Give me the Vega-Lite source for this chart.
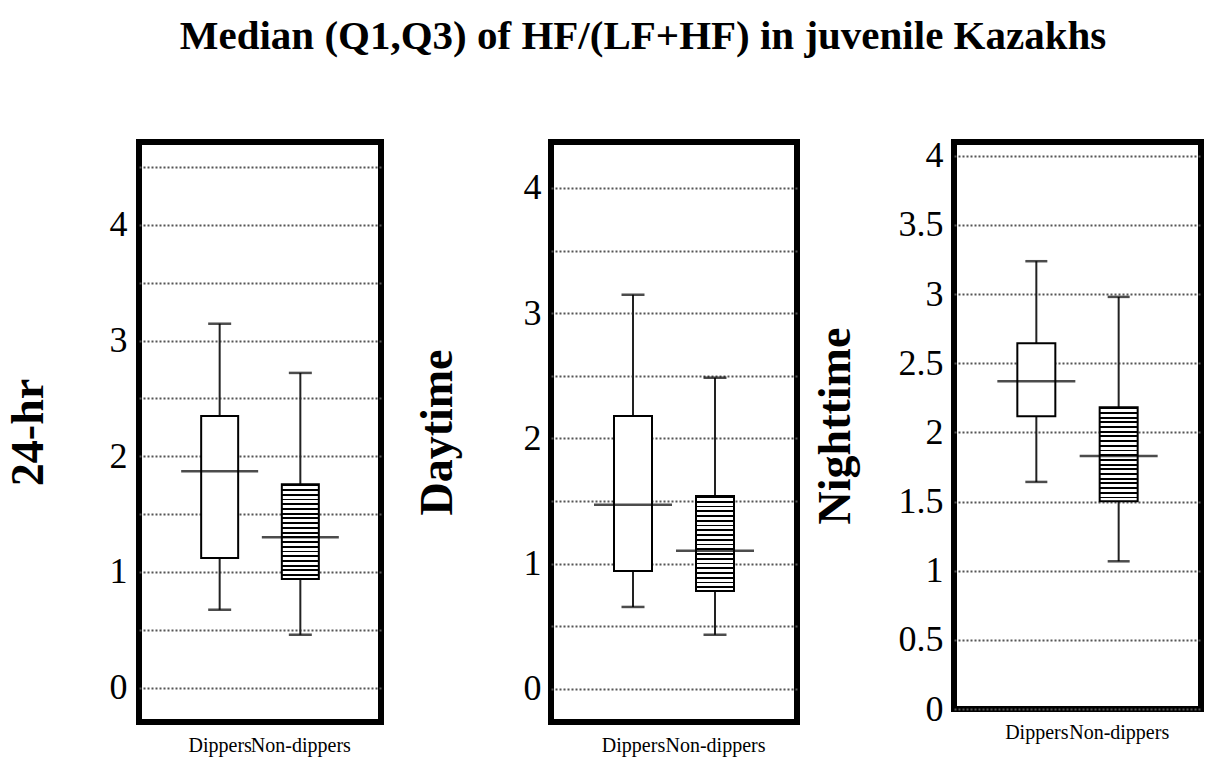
{
  "$schema": "https://vega.github.io/schema/vega-lite/v6.json",
  "background": "white",
  "padding": {"left": 2, "top": 15, "right": 2, "bottom": 2},
  "title": {
    "text": "Median (Q1,Q3) of HF/(LF+HF) in juvenile Kazakhs",
    "font": "Liberation Serif",
    "fontSize": 41,
    "fontWeight": "bold",
    "color": "black",
    "anchor": "middle",
    "offset": 77,
    "dx": 40
  },
  "datasets": {
    "stats": [
      {"panel": "24-hr", "group": "Dippers", "low": 0.674, "q1": 1.12, "median": 1.87, "q3": 2.347, "high": 3.145},
      {"panel": "24-hr", "group": "Non-dippers", "low": 0.458, "q1": 0.94, "median": 1.30, "q3": 1.757, "high": 2.72},
      {"panel": "Daytime", "group": "Dippers", "low": 0.653, "q1": 0.94, "median": 1.47, "q3": 2.178, "high": 3.147},
      {"panel": "Daytime", "group": "Non-dippers", "low": 0.431, "q1": 0.78, "median": 1.102, "q3": 1.539, "high": 2.484},
      {"panel": "Nighttime", "group": "Dippers", "low": 1.642, "q1": 2.117, "median": 2.37, "q3": 2.645, "high": 3.238},
      {"panel": "Nighttime", "group": "Non-dippers", "low": 1.068, "q1": 1.502, "median": 1.83, "q3": 2.182, "high": 2.98}
    ]
  },
  "config": {
    "view": {"stroke": "black", "strokeWidth": 6},
    "axisY": {
      "labelFont": "Liberation Serif",
      "labelFontSize": 36,
      "labelColor": "black",
      "labelBaseline": "middle",
      "format": "~g",
      "grid": true,
      "gridColor": "#555555",
      "gridDash": [2, 2],
      "gridWidth": 1.8,
      "ticks": false,
      "domain": false,
      "titleFont": "Liberation Serif",
      "titleFontSize": 46,
      "titleFontWeight": "bold",
      "titleColor": "black"
    },
    "axisX": {
      "labelFont": "Liberation Serif",
      "labelFontSize": 20,
      "labelColor": "black",
      "labelAngle": 0,
      "labelPadding": 13,
      "ticks": false,
      "domain": false,
      "grid": false,
      "title": null
    }
  },
  "hconcat": [
    {
      "bounds": "flush",
      "spacing": 170,
      "hconcat": [
        {
          "width": 242,
          "height": 580,
          "data": {"name": "stats"},
          "transform": [{"filter": "datum.panel === '24-hr'"}],
          "encoding": {
            "x": {"field": "group", "type": "nominal", "scale": {"type": "point", "padding": 1}, "axis": {"title": null}}
          },
          "layer": [
            {
              "mark": {"type": "rule", "color": "#222", "strokeWidth": 2},
              "encoding": {
                "y": {"field": "low", "type": "quantitative", "title": "24-hr",
                  "scale": {"domain": [-0.296, 4.715], "nice": false, "zero": false},
                  "axis": {"values": [0, 0.5, 1, 1.5, 2, 2.5, 3, 3.5, 4, 4.5], "format": "~g", "labelExpr": "datum.value % 1 === 0 ? datum.label : ''", "labelPadding": 12, "titlePadding": 57}},
                "y2": {"field": "high"}
              }
            },
            {
              "mark": {"type": "tick", "color": "black", "size": 23, "thickness": 2.5},
              "encoding": {"y": {"field": "low", "type": "quantitative", "title": "24-hr"}}
            },
            {
              "mark": {"type": "tick", "color": "black", "size": 23, "thickness": 2.5},
              "encoding": {"y": {"field": "high", "type": "quantitative", "title": "24-hr"}}
            },
            {
              "transform": [{"filter": "datum.group === 'Dippers'"}],
              "mark": {"type": "bar", "size": 37, "fill": "white", "stroke": "black", "strokeWidth": 2},
              "encoding": {"y": {"field": "q1", "type": "quantitative", "title": "24-hr"}, "y2": {"field": "q3"}}
            },
            {
              "transform": [{"filter": "datum.group === 'Non-dippers'"}],
              "mark": {"type": "bar", "size": 37, "stroke": "black", "strokeWidth": 2,
                "fill": {"gradient": "linear", "x1": 0, "y1": 0, "x2": 0, "y2": 1, "stops": [
                  {"offset": 0, "color": "black"}, {"offset": 0.02, "color": "black"}, {"offset": 0.02, "color": "white"}, {"offset": 0.05, "color": "white"},
                  {"offset": 0.05, "color": "black"}, {"offset": 0.07, "color": "black"}, {"offset": 0.07, "color": "white"}, {"offset": 0.1, "color": "white"},
                  {"offset": 0.1, "color": "black"}, {"offset": 0.12, "color": "black"}, {"offset": 0.12, "color": "white"}, {"offset": 0.15, "color": "white"},
                  {"offset": 0.15, "color": "black"}, {"offset": 0.17, "color": "black"}, {"offset": 0.17, "color": "white"}, {"offset": 0.2, "color": "white"},
                  {"offset": 0.2, "color": "black"}, {"offset": 0.22, "color": "black"}, {"offset": 0.22, "color": "white"}, {"offset": 0.25, "color": "white"},
                  {"offset": 0.25, "color": "black"}, {"offset": 0.27, "color": "black"}, {"offset": 0.27, "color": "white"}, {"offset": 0.3, "color": "white"},
                  {"offset": 0.3, "color": "black"}, {"offset": 0.32, "color": "black"}, {"offset": 0.32, "color": "white"}, {"offset": 0.35, "color": "white"},
                  {"offset": 0.35, "color": "black"}, {"offset": 0.37, "color": "black"}, {"offset": 0.37, "color": "white"}, {"offset": 0.4, "color": "white"},
                  {"offset": 0.4, "color": "black"}, {"offset": 0.42, "color": "black"}, {"offset": 0.42, "color": "white"}, {"offset": 0.45, "color": "white"},
                  {"offset": 0.45, "color": "black"}, {"offset": 0.47, "color": "black"}, {"offset": 0.47, "color": "white"}, {"offset": 0.5, "color": "white"},
                  {"offset": 0.5, "color": "black"}, {"offset": 0.52, "color": "black"}, {"offset": 0.52, "color": "white"}, {"offset": 0.55, "color": "white"},
                  {"offset": 0.55, "color": "black"}, {"offset": 0.57, "color": "black"}, {"offset": 0.57, "color": "white"}, {"offset": 0.6, "color": "white"},
                  {"offset": 0.6, "color": "black"}, {"offset": 0.62, "color": "black"}, {"offset": 0.62, "color": "white"}, {"offset": 0.65, "color": "white"},
                  {"offset": 0.65, "color": "black"}, {"offset": 0.67, "color": "black"}, {"offset": 0.67, "color": "white"}, {"offset": 0.7, "color": "white"},
                  {"offset": 0.7, "color": "black"}, {"offset": 0.72, "color": "black"}, {"offset": 0.72, "color": "white"}, {"offset": 0.75, "color": "white"},
                  {"offset": 0.75, "color": "black"}, {"offset": 0.77, "color": "black"}, {"offset": 0.77, "color": "white"}, {"offset": 0.8, "color": "white"},
                  {"offset": 0.8, "color": "black"}, {"offset": 0.82, "color": "black"}, {"offset": 0.82, "color": "white"}, {"offset": 0.85, "color": "white"},
                  {"offset": 0.85, "color": "black"}, {"offset": 0.87, "color": "black"}, {"offset": 0.87, "color": "white"}, {"offset": 0.9, "color": "white"},
                  {"offset": 0.9, "color": "black"}, {"offset": 0.92, "color": "black"}, {"offset": 0.92, "color": "white"}, {"offset": 0.95, "color": "white"},
                  {"offset": 0.95, "color": "black"}, {"offset": 0.97, "color": "black"}, {"offset": 0.97, "color": "white"}, {"offset": 1, "color": "white"}
                ]}},
              "encoding": {"y": {"field": "q1", "type": "quantitative", "title": "24-hr"}, "y2": {"field": "q3"}}
            },
            {
              "mark": {"type": "tick", "color": "black", "size": 77, "thickness": 2.5},
              "encoding": {"y": {"field": "median", "type": "quantitative", "title": "24-hr"}}
            }
          ]
        },
        {
          "width": 246,
          "height": 580,
          "data": {"name": "stats"},
          "transform": [{"filter": "datum.panel === 'Daytime'"}],
          "encoding": {
            "x": {"field": "group", "type": "nominal", "scale": {"type": "point", "padding": 1}, "axis": {"title": null}}
          },
          "layer": [
            {
              "mark": {"type": "rule", "color": "#222", "strokeWidth": 2},
              "encoding": {
                "y": {"field": "low", "type": "quantitative", "title": "Daytime",
                  "scale": {"domain": [-0.266, 4.367], "nice": false, "zero": false},
                  "axis": {"values": [0, 0.5, 1, 1.5, 2, 2.5, 3, 3.5, 4], "format": "~g", "labelExpr": "datum.value % 1 === 0 ? datum.label : ''", "labelPadding": 10, "titlePadding": 62}},
                "y2": {"field": "high"}
              }
            },
            {
              "mark": {"type": "tick", "color": "black", "size": 23, "thickness": 2.5},
              "encoding": {"y": {"field": "low", "type": "quantitative", "title": "Daytime"}}
            },
            {
              "mark": {"type": "tick", "color": "black", "size": 23, "thickness": 2.5},
              "encoding": {"y": {"field": "high", "type": "quantitative", "title": "Daytime"}}
            },
            {
              "transform": [{"filter": "datum.group === 'Dippers'"}],
              "mark": {"type": "bar", "size": 38, "fill": "white", "stroke": "black", "strokeWidth": 2},
              "encoding": {"y": {"field": "q1", "type": "quantitative", "title": "Daytime"}, "y2": {"field": "q3"}}
            },
            {
              "transform": [{"filter": "datum.group === 'Non-dippers'"}],
              "mark": {"type": "bar", "size": 38, "stroke": "black", "strokeWidth": 2,
                "fill": {"gradient": "linear", "x1": 0, "y1": 0, "x2": 0, "y2": 1, "stops": [
                  {"offset": 0, "color": "black"}, {"offset": 0.02, "color": "black"}, {"offset": 0.02, "color": "white"}, {"offset": 0.05, "color": "white"},
                  {"offset": 0.05, "color": "black"}, {"offset": 0.07, "color": "black"}, {"offset": 0.07, "color": "white"}, {"offset": 0.1, "color": "white"},
                  {"offset": 0.1, "color": "black"}, {"offset": 0.12, "color": "black"}, {"offset": 0.12, "color": "white"}, {"offset": 0.15, "color": "white"},
                  {"offset": 0.15, "color": "black"}, {"offset": 0.17, "color": "black"}, {"offset": 0.17, "color": "white"}, {"offset": 0.2, "color": "white"},
                  {"offset": 0.2, "color": "black"}, {"offset": 0.22, "color": "black"}, {"offset": 0.22, "color": "white"}, {"offset": 0.25, "color": "white"},
                  {"offset": 0.25, "color": "black"}, {"offset": 0.27, "color": "black"}, {"offset": 0.27, "color": "white"}, {"offset": 0.3, "color": "white"},
                  {"offset": 0.3, "color": "black"}, {"offset": 0.32, "color": "black"}, {"offset": 0.32, "color": "white"}, {"offset": 0.35, "color": "white"},
                  {"offset": 0.35, "color": "black"}, {"offset": 0.37, "color": "black"}, {"offset": 0.37, "color": "white"}, {"offset": 0.4, "color": "white"},
                  {"offset": 0.4, "color": "black"}, {"offset": 0.42, "color": "black"}, {"offset": 0.42, "color": "white"}, {"offset": 0.45, "color": "white"},
                  {"offset": 0.45, "color": "black"}, {"offset": 0.47, "color": "black"}, {"offset": 0.47, "color": "white"}, {"offset": 0.5, "color": "white"},
                  {"offset": 0.5, "color": "black"}, {"offset": 0.52, "color": "black"}, {"offset": 0.52, "color": "white"}, {"offset": 0.55, "color": "white"},
                  {"offset": 0.55, "color": "black"}, {"offset": 0.57, "color": "black"}, {"offset": 0.57, "color": "white"}, {"offset": 0.6, "color": "white"},
                  {"offset": 0.6, "color": "black"}, {"offset": 0.62, "color": "black"}, {"offset": 0.62, "color": "white"}, {"offset": 0.65, "color": "white"},
                  {"offset": 0.65, "color": "black"}, {"offset": 0.67, "color": "black"}, {"offset": 0.67, "color": "white"}, {"offset": 0.7, "color": "white"},
                  {"offset": 0.7, "color": "black"}, {"offset": 0.72, "color": "black"}, {"offset": 0.72, "color": "white"}, {"offset": 0.75, "color": "white"},
                  {"offset": 0.75, "color": "black"}, {"offset": 0.77, "color": "black"}, {"offset": 0.77, "color": "white"}, {"offset": 0.8, "color": "white"},
                  {"offset": 0.8, "color": "black"}, {"offset": 0.82, "color": "black"}, {"offset": 0.82, "color": "white"}, {"offset": 0.85, "color": "white"},
                  {"offset": 0.85, "color": "black"}, {"offset": 0.87, "color": "black"}, {"offset": 0.87, "color": "white"}, {"offset": 0.9, "color": "white"},
                  {"offset": 0.9, "color": "black"}, {"offset": 0.92, "color": "black"}, {"offset": 0.92, "color": "white"}, {"offset": 0.95, "color": "white"},
                  {"offset": 0.95, "color": "black"}, {"offset": 0.97, "color": "black"}, {"offset": 0.97, "color": "white"}, {"offset": 1, "color": "white"}
                ]}},
              "encoding": {"y": {"field": "q1", "type": "quantitative", "title": "Daytime"}, "y2": {"field": "q3"}}
            },
            {
              "mark": {"type": "tick", "color": "black", "size": 78, "thickness": 2.5},
              "encoding": {"y": {"field": "median", "type": "quantitative", "title": "Daytime"}}
            }
          ]
        }
      ]
    },
    {
      "width": 247,
      "height": 567,
      "data": {"name": "stats"},
      "transform": [{"filter": "datum.panel === 'Nighttime'"}],
      "encoding": {
        "x": {"field": "group", "type": "nominal", "scale": {"type": "point", "padding": 1}, "axis": {"title": null}}
      },
      "layer": [
        {
          "mark": {"type": "rule", "color": "#222", "strokeWidth": 2},
          "encoding": {
            "y": {"field": "low", "type": "quantitative", "title": "Nighttime",
              "scale": {"domain": [0, 4.1], "nice": false, "zero": false},
              "axis": {"values": [0, 0.5, 1, 1.5, 2, 2.5, 3, 3.5, 4], "format": "~g", "labelPadding": 11, "titlePadding": 39}},
            "y2": {"field": "high"}
          }
        },
        {
          "mark": {"type": "tick", "color": "black", "size": 22, "thickness": 2.5},
          "encoding": {"y": {"field": "low", "type": "quantitative", "title": "Nighttime"}}
        },
        {
          "mark": {"type": "tick", "color": "black", "size": 22, "thickness": 2.5},
          "encoding": {"y": {"field": "high", "type": "quantitative", "title": "Nighttime"}}
        },
        {
          "transform": [{"filter": "datum.group === 'Dippers'"}],
          "mark": {"type": "bar", "size": 38, "fill": "white", "stroke": "black", "strokeWidth": 2},
          "encoding": {"y": {"field": "q1", "type": "quantitative", "title": "Nighttime"}, "y2": {"field": "q3"}}
        },
        {
          "transform": [{"filter": "datum.group === 'Non-dippers'"}],
          "mark": {"type": "bar", "size": 38, "stroke": "black", "strokeWidth": 2,
            "fill": {"gradient": "linear", "x1": 0, "y1": 0, "x2": 0, "y2": 1, "stops": [
              {"offset": 0, "color": "black"}, {"offset": 0.02, "color": "black"}, {"offset": 0.02, "color": "white"}, {"offset": 0.05, "color": "white"},
              {"offset": 0.05, "color": "black"}, {"offset": 0.07, "color": "black"}, {"offset": 0.07, "color": "white"}, {"offset": 0.1, "color": "white"},
              {"offset": 0.1, "color": "black"}, {"offset": 0.12, "color": "black"}, {"offset": 0.12, "color": "white"}, {"offset": 0.15, "color": "white"},
              {"offset": 0.15, "color": "black"}, {"offset": 0.17, "color": "black"}, {"offset": 0.17, "color": "white"}, {"offset": 0.2, "color": "white"},
              {"offset": 0.2, "color": "black"}, {"offset": 0.22, "color": "black"}, {"offset": 0.22, "color": "white"}, {"offset": 0.25, "color": "white"},
              {"offset": 0.25, "color": "black"}, {"offset": 0.27, "color": "black"}, {"offset": 0.27, "color": "white"}, {"offset": 0.3, "color": "white"},
              {"offset": 0.3, "color": "black"}, {"offset": 0.32, "color": "black"}, {"offset": 0.32, "color": "white"}, {"offset": 0.35, "color": "white"},
              {"offset": 0.35, "color": "black"}, {"offset": 0.37, "color": "black"}, {"offset": 0.37, "color": "white"}, {"offset": 0.4, "color": "white"},
              {"offset": 0.4, "color": "black"}, {"offset": 0.42, "color": "black"}, {"offset": 0.42, "color": "white"}, {"offset": 0.45, "color": "white"},
              {"offset": 0.45, "color": "black"}, {"offset": 0.47, "color": "black"}, {"offset": 0.47, "color": "white"}, {"offset": 0.5, "color": "white"},
              {"offset": 0.5, "color": "black"}, {"offset": 0.52, "color": "black"}, {"offset": 0.52, "color": "white"}, {"offset": 0.55, "color": "white"},
              {"offset": 0.55, "color": "black"}, {"offset": 0.57, "color": "black"}, {"offset": 0.57, "color": "white"}, {"offset": 0.6, "color": "white"},
              {"offset": 0.6, "color": "black"}, {"offset": 0.62, "color": "black"}, {"offset": 0.62, "color": "white"}, {"offset": 0.65, "color": "white"},
              {"offset": 0.65, "color": "black"}, {"offset": 0.67, "color": "black"}, {"offset": 0.67, "color": "white"}, {"offset": 0.7, "color": "white"},
              {"offset": 0.7, "color": "black"}, {"offset": 0.72, "color": "black"}, {"offset": 0.72, "color": "white"}, {"offset": 0.75, "color": "white"},
              {"offset": 0.75, "color": "black"}, {"offset": 0.77, "color": "black"}, {"offset": 0.77, "color": "white"}, {"offset": 0.8, "color": "white"},
              {"offset": 0.8, "color": "black"}, {"offset": 0.82, "color": "black"}, {"offset": 0.82, "color": "white"}, {"offset": 0.85, "color": "white"},
              {"offset": 0.85, "color": "black"}, {"offset": 0.87, "color": "black"}, {"offset": 0.87, "color": "white"}, {"offset": 0.9, "color": "white"},
              {"offset": 0.9, "color": "black"}, {"offset": 0.92, "color": "black"}, {"offset": 0.92, "color": "white"}, {"offset": 0.95, "color": "white"},
              {"offset": 0.95, "color": "black"}, {"offset": 0.97, "color": "black"}, {"offset": 0.97, "color": "white"}, {"offset": 1, "color": "white"}
            ]}},
          "encoding": {"y": {"field": "q1", "type": "quantitative", "title": "Nighttime"}, "y2": {"field": "q3"}}
        },
        {
          "mark": {"type": "tick", "color": "black", "size": 78, "thickness": 2.5},
          "encoding": {"y": {"field": "median", "type": "quantitative", "title": "Nighttime"}}
        }
      ]
    }
  ],
  "spacing": 9
}
